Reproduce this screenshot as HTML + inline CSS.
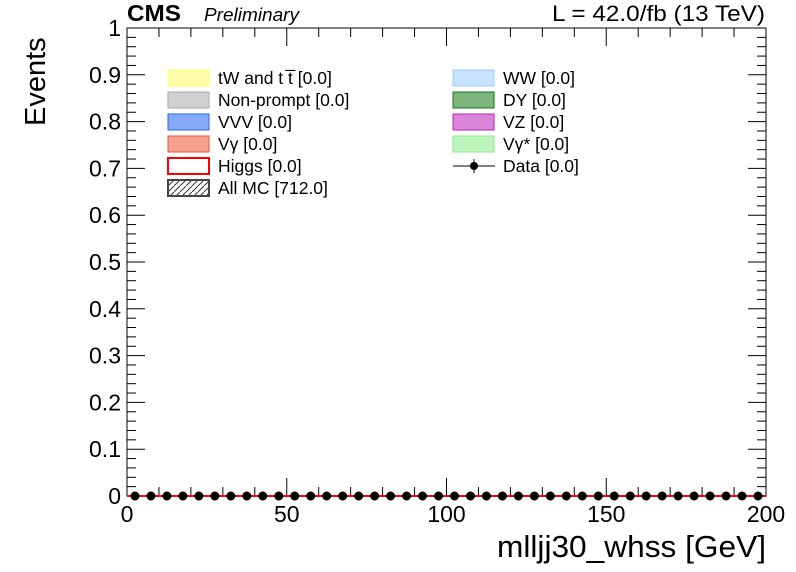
<!DOCTYPE html>
<html><head><meta charset="utf-8"><style>
body{margin:0;background:#fff;}
svg{display:block;font-family:"Liberation Sans",sans-serif;}
</style></head><body>
<svg id="chart" width="796" height="572" viewBox="0 0 796 572" xmlns="http://www.w3.org/2000/svg">
<defs>
<pattern id="hatch" width="6" height="6" patternUnits="userSpaceOnUse"><path d="M0,6 L6,0" stroke="#333" stroke-width="1"/></pattern>
</defs>
<rect width="796" height="572" fill="#fff"/>
<g id="axes"></g>
<g id="marks"></g>
<text x="127" y="21" font-size="23" font-weight="bold" textLength="54" lengthAdjust="spacingAndGlyphs">CMS</text>
<text x="204" y="21" font-size="18" font-style="italic" textLength="95" lengthAdjust="spacingAndGlyphs">Preliminary</text>
<text x="765" y="21" font-size="22" text-anchor="end" textLength="213" lengthAdjust="spacingAndGlyphs">L = 42.0/fb (13 TeV)</text>
<text transform="translate(45,126) rotate(-90)" font-size="29">Events</text>
<text x="766" y="557" font-size="31" text-anchor="end" textLength="269" lengthAdjust="spacingAndGlyphs">mlljj30_whss [GeV]</text>
<g id="legend" font-size="17.5"></g>
</svg>
<script>
const xTicks=[0,50,100,150,200];
const yTicks=[0,0.1,0.2,0.3,0.4,0.5,0.6,0.7,0.8,0.9,1];
const binCenters=[];for(let i=0;i<40;i++)binCenters.push(2.5+5*i);
const dataValues=new Array(40).fill(0);
const higgsValues=new Array(40).fill(0);
const legendLabels=["tW and t t\u0305 [0.0]","Non-prompt [0.0]","VVV [0.0]","V\u03b3 [0.0]","Higgs [0.0]","All MC [712.0]","WW [0.0]","DY [0.0]","VZ [0.0]","V\u03b3* [0.0]","Data [0.0]"];
const legendColors=["#ffff66","#aaaaaa","#2266ee","#ee5533","red","hatch","#99ccff","#117711","#bb22bb","#88ee88","data"];
const L=127,R=766,T=28,B=496;
const xs=v=>L+(v-0)/(200-0)*(R-L);
const ys=v=>B-(v-0)/(1-0)*(B-T);
const NS="http://www.w3.org/2000/svg";
function mk(tag,attrs,parent){const e=document.createElementNS(NS,tag);for(const k in attrs)e.setAttribute(k,attrs[k]);parent.appendChild(e);return e;}
const ax=document.getElementById('axes');
const frame=mk('rect',{x:L,y:T,width:R-L,height:B-T,fill:'none',stroke:'#000','stroke-width':1},ax);


for(let v=0;v<=200;v+=10){const x=xs(v);const big=v%50===0;const h=big?18:9;
mk('line',{x1:x,y1:B,x2:x,y2:B-h,stroke:'#000'},ax);mk('line',{x1:x,y1:T,x2:x,y2:T+h,stroke:'#000'},ax);}
for(let i=0;i<=50;i++){const v=i*0.02;const y=ys(v);const big=i%5===0;const w=big?18:9;
mk('line',{x1:L,y1:y,x2:L+w,y2:y,stroke:'#000'},ax);mk('line',{x1:R,y1:y,x2:R-w,y2:y,stroke:'#000'},ax);}
xTicks.forEach(v=>{const t=mk('text',{x:xs(v),y:522,'font-size':23,'text-anchor':'middle'},ax);t.textContent=v;

});
yTicks.forEach(v=>{const t=mk('text',{x:121,y:ys(v)+8,'font-size':23,'text-anchor':'end'},ax);t.textContent=v;

});
const mg=document.getElementById('marks');
const hl=mk('polyline',{points:binCenters.map((c,i)=>xs(c-2.5)+','+ys(higgsValues[i])+' '+xs(c+2.5)+','+ys(higgsValues[i])).join(' '),fill:'none',stroke:'red','stroke-width':2},mg);


binCenters.forEach((c,i)=>{const p=mk('circle',{cx:xs(c),cy:ys(dataValues[i]),r:4.5,fill:'#000'},mg);

});
const lg=document.getElementById('legend');
legendLabels.forEach((lab,i)=>{const col=i<6?0:1;const row=i<6?i:i-6;const x0=col?453:168,y0=68+row*22;
const c=legendColors[i];
if(c==='data'){mk('line',{x1:x0,y1:y0+10,x2:x0+42,y2:y0+10,stroke:'#000'},lg);mk('line',{x1:x0+21,y1:y0+3,x2:x0+21,y2:y0+17,stroke:'#000'},lg);mk('circle',{cx:x0+21,cy:y0+10,r:4,fill:'#000'},lg);}
else if(c==='hatch'){mk('rect',{x:x0,y:y0+2,width:41,height:16,fill:'url(#hatch)',stroke:'#444','stroke-width':2},lg);}
else if(c==='red'){mk('rect',{x:x0,y:y0+2,width:41,height:16,fill:'#fff',stroke:'red','stroke-width':2},lg);}
else{mk('rect',{x:x0,y:y0+2,width:41,height:16,fill:c,'fill-opacity':0.55,stroke:c},lg);}
const t=mk('text',{x:x0+50,y:y0+16},lg);t.textContent=lab;

});
</script>
</body></html>
